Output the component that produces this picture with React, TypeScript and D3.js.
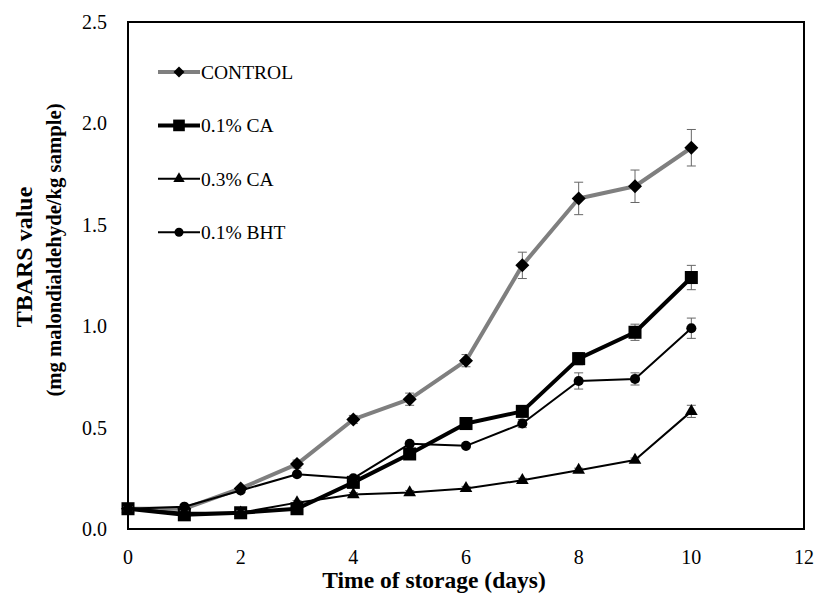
import React, { useEffect, useRef } from 'react';
import * as d3 from 'd3';

const days = [0, 1, 2, 3, 4, 5, 6, 7, 8, 9, 10];
const control = [0.10, 0.10, 0.20, 0.32, 0.54, 0.64, 0.83, 1.30, 1.63, 1.69, 1.88];
const controlErr = [0.01, 0.01, 0.01, 0.02, 0.02, 0.03, 0.03, 0.065, 0.08, 0.08, 0.09];
const ca01 = [0.10, 0.07, 0.08, 0.10, 0.23, 0.37, 0.52, 0.58, 0.84, 0.97, 1.24];
const ca01Err = [0.01, 0.01, 0.01, 0.01, 0.02, 0.02, 0.02, 0.02, 0.03, 0.04, 0.06];
const ca03 = [0.10, 0.08, 0.08, 0.13, 0.17, 0.18, 0.20, 0.24, 0.29, 0.34, 0.58];
const ca03Err = [0.01, 0.01, 0.01, 0.01, 0.01, 0.01, 0.01, 0.01, 0.01, 0.01, 0.03];
const bht = [0.10, 0.11, 0.19, 0.27, 0.25, 0.42, 0.41, 0.52, 0.73, 0.74, 0.99];
const bhtErr = [0.01, 0.01, 0.01, 0.01, 0.01, 0.01, 0.01, 0.02, 0.04, 0.03, 0.05];
const seriesNames = ['CONTROL', '0.1% CA', '0.3% CA', '0.1% BHT'];
const xTicks = [0, 2, 4, 6, 8, 10, 12];
const yTicks = [0, 0.5, 1.0, 1.5, 2.0, 2.5];

// square-ish diamond (rotated square), r = half diagonal
const diamond = (r: number) => `M0,${-r}L${r},0L0,${r}L${-r},0Z`;

const App = () => {
  const ref = useRef<SVGSVGElement | null>(null);

  useEffect(() => {
    if (!ref.current) return;
    const svg = d3.select(ref.current);
    svg.selectAll('*').remove();

    const font = '"Liberation Serif", "Times New Roman", serif';
    const x = d3.scaleLinear().domain([0, 12]).range([128, 804]);
    const y = d3.scaleLinear().domain([0, 2.5]).range([529, 22]);

    const series = [
      { name: seriesNames[0], values: control, err: controlErr, color: '#7f7f7f', width: 4, marker: 'diamond', size: 7 },
      { name: seriesNames[1], values: ca01, err: ca01Err, color: '#000', width: 4, marker: 'square', size: 170 },
      { name: seriesNames[2], values: ca03, err: ca03Err, color: '#000', width: 2, marker: 'triangle', size: 70 },
      { name: seriesNames[3], values: bht, err: bhtErr, color: '#000', width: 2, marker: 'circle', size: 80 },
    ];
    const markerPath = (m: string, size: number) => {
      if (m === 'diamond') return diamond(size);
      const t = m === 'square' ? d3.symbolSquare : m === 'triangle' ? d3.symbolTriangle : d3.symbolCircle;
      return d3.symbol().type(t).size(size)() as string;
    };

    // plot frame
    svg.append('rect')
      .attr('x', x(0)).attr('y', y(2.5))
      .attr('width', x(12) - x(0)).attr('height', y(0) - y(2.5))
      .attr('fill', 'none').attr('stroke', '#000').attr('stroke-width', 2);

    // tick labels
    svg.selectAll('.xt').data(xTicks).enter().append('text')
      .attr('x', d => x(d)).attr('y', 564)
      .attr('text-anchor', 'middle')
      .style('font-family', font).style('font-size', '20px')
      .text(d => d);
    svg.selectAll('.yt').data(yTicks).enter().append('text')
      .attr('x', 107).attr('y', d => y(d) + 7)
      .attr('text-anchor', 'end')
      .style('font-family', font).style('font-size', '20px')
      .text(d => d.toFixed(1));

    // axis titles
    svg.append('text')
      .attr('x', 434).attr('y', 588).attr('text-anchor', 'middle')
      .style('font-family', font).style('font-size', '23.5px').style('font-weight', 'bold')
      .text('Time of storage (days)');
    svg.append('text')
      .attr('transform', 'translate(32, 257) rotate(-90)')
      .attr('text-anchor', 'middle')
      .style('font-family', font).style('font-size', '24px').style('font-weight', 'bold')
      .text('TBARS value');
    svg.append('text')
      .attr('transform', 'translate(61, 250) rotate(-90)')
      .attr('text-anchor', 'middle')
      .style('font-family', font).style('font-size', '20.7px').style('font-weight', 'bold')
      .text('(mg malondialdehyde/kg sample)');

    const line = d3.line<number>().x((_, i) => x(days[i])).y(d => y(d));

    series.forEach(s => {
      // error bars
      const g = svg.append('g');
      s.values.forEach((v, i) => {
        const cx = x(days[i]);
        const lo = y(v - s.err[i]);
        const hi = y(v + s.err[i]);
        g.append('line').attr('x1', cx).attr('x2', cx).attr('y1', lo).attr('y2', hi)
          .attr('stroke', '#666').attr('stroke-width', 1);
        [lo, hi].forEach(yy => g.append('line')
          .attr('x1', cx - 4.5).attr('x2', cx + 4.5).attr('y1', yy).attr('y2', yy)
          .attr('stroke', '#666').attr('stroke-width', 1));
      });
      svg.append('path')
        .datum(s.values)
        .attr('d', line)
        .attr('fill', 'none')
        .attr('stroke', s.color)
        .attr('stroke-width', s.width)
        .attr('stroke-linejoin', 'round');
      svg.selectAll(null).data(s.values).enter().append('path')
        .attr('transform', (d, i) => `translate(${x(days[i])}, ${y(d)})`)
        .attr('d', markerPath(s.marker, s.size))
        .attr('fill', '#000');
    });

    // legend
    series.forEach((s, i) => {
      const ly = 72 + i * 53.4;
      svg.append('line')
        .attr('x1', 158).attr('x2', 200).attr('y1', ly).attr('y2', ly)
        .attr('stroke', s.color).attr('stroke-width', s.width);
      svg.append('path')
        .attr('transform', `translate(179, ${ly})`)
        .attr('d', markerPath(s.marker, s.marker === 'diamond' ? 5.5 : s.size * 0.8))
        .attr('fill', '#000');
      svg.append('text')
        .attr('x', 201).attr('y', ly + 7)
        .style('font-family', font).style('font-size', '19.5px')
        .text(s.name);
    });
  }, []);

  return (
    <svg ref={ref} width={818} height={595}
      style={{ position: 'absolute', left: 0, top: 0, background: '#fff' }} />
  );
};

export default App;
